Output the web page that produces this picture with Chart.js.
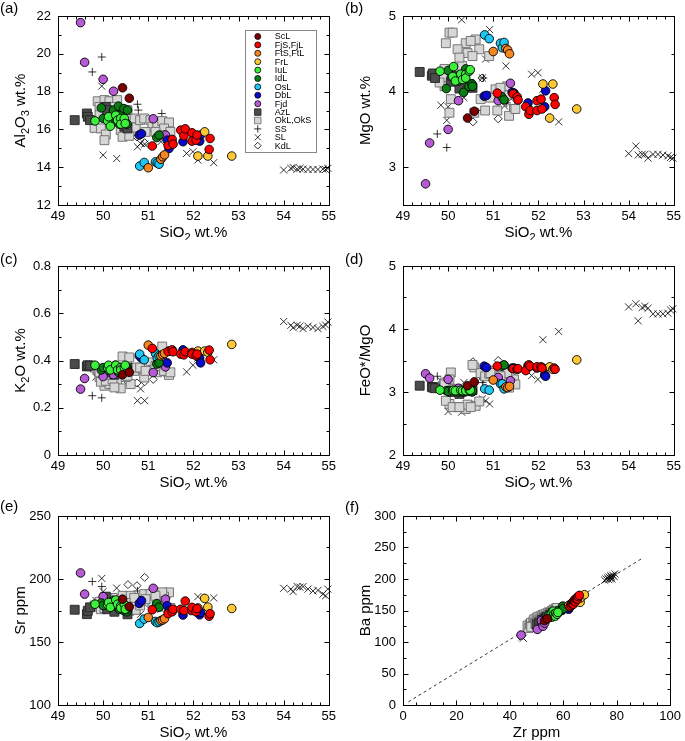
<!DOCTYPE html>
<html>
<head>
<meta charset="utf-8">
<script src="https://cdn.jsdelivr.net/npm/chart.js@4.4.0/dist/chart.umd.min.js"></script>
<style>
  body { margin: 0; background: #fff; width: 685px; height: 741px; position: relative; overflow: hidden;
         font-family: "Liberation Sans", Arial, sans-serif; }
  .panel { position: absolute; }
  .tag { position: absolute; font-size: 15px; line-height: 15px; color: #000; }
</style>
</head>
<body>
<div class="panel" style="left:0;top:0"><canvas id="ca" width="340" height="240"></canvas></div>
<div class="panel" style="left:340px;top:0"><canvas id="cb" width="345" height="240"></canvas></div>
<div class="panel" style="left:0;top:250px"><canvas id="cc" width="340" height="240"></canvas></div>
<div class="panel" style="left:340px;top:250px"><canvas id="cd" width="345" height="240"></canvas></div>
<div class="panel" style="left:0;top:500px"><canvas id="ce" width="340" height="240"></canvas></div>
<div class="panel" style="left:340px;top:500px"><canvas id="cf" width="345" height="240"></canvas></div>
<div class="tag" style="left:0;top:0">(a)</div>
<div class="tag" style="left:345px;top:0">(b)</div>
<div class="tag" style="left:0;top:251px">(c)</div>
<div class="tag" style="left:345px;top:251px">(d)</div>
<div class="tag" style="left:0;top:498px">(e)</div>
<div class="tag" style="left:345px;top:499px">(f)</div>

<script>
// --- DATA ---
// row columns: SiO2, Al2O3, MgO, K2O, FeO*/MgO, Sr, Zr, Ba
const ScL = [
  [50.43, 18.20, 3.65, 0.34, 3.10, 184, 53.0, 134],
  [50.58, 17.65, 3.74, 0.35, 3.16, 178, 54.0, 137],
];
const FjS_FjL = [
  [51.09, 15.12, 3.98, 0.451, 3.41, 175.6, 62.5, 156],
  [51.44, 15.15, 3.97, 0.438, 3.37, 172.5, 63.0, 158],
  [51.53, 15.47, 3.93, 0.445, 3.36, 174.0, 63.2, 161],
  [51.55, 15.22, 3.89, 0.437, 3.37, 176.0, 63.5, 163],
  [51.72, 15.96, 3.80, 0.427, 3.34, 176.0, 63.8, 160],
  [51.79, 15.66, 3.70, 0.424, 3.43, 175.0, 64.0, 165],
  [51.82, 16.03, 3.75, 0.437, 3.41, 182.5, 64.2, 167],
  [51.97, 15.82, 3.88, 0.434, 3.38, 175.0, 64.5, 164],
  [51.97, 15.38, 3.75, 0.427, 3.40, 177.5, 64.8, 168],
  [52.06, 15.43, 3.90, 0.420, 3.40, 174.0, 65.0, 170],
  [52.08, 15.70, 3.77, 0.427, 3.38, 176.5, 65.3, 168],
  [52.35, 14.94, 3.92, 0.444, 3.38, 170.5, 65.6, 172],
  [52.37, 15.52, 3.83, 0.403, 3.36, 172.5, 66.0, 174],
];
const FtS_FtL = [
  [51.00, 13.97, 4.53, 0.465, 3.19, 169.5, 62.0, 158],
  [51.28, 14.42, 4.57, 0.420, 3.08, 167.0, 63.0, 160],
  [51.32, 14.55, 4.55, 0.425, 3.07, 167.5, 63.5, 162],
  [51.36, 14.65, 4.50, 0.430, 3.09, 168.5, 64.0, 163],
];
const FrL = [
  [52.10, 14.59, 4.10, 0.440, 3.38, 177.0, 65.5, 168],
  [52.25, 15.87, 3.65, 0.440, 3.40, 184.6, 66.3, 163],
  [52.32, 14.59, 4.10, 0.435, 3.36, 177.7, 66.5, 170],
  [52.85, 14.59, 3.77, 0.468, 3.51, 176.6, 67.9, 175],
];
const IuL = [
  [49.82, 16.45, 4.27, 0.38, 3.03, 180.0, 54.6, 142],
  [50.10, 16.45, 4.20, 0.37, 3.02, 179.6, 55.2, 141],
  [50.12, 16.67, 4.33, 0.38, 3.03, 181.4, 55.5, 145],
  [50.16, 16.17, 4.14, 0.36, 3.02, 177.5, 56.0, 140],
  [50.28, 16.75, 4.23, 0.38, 3.03, 183.3, 56.2, 149],
  [50.32, 16.49, 4.16, 0.36, 3.02, 180.0, 56.5, 144],
  [50.39, 16.58, 4.23, 0.37, 3.03, 178.8, 57.0, 141],
  [50.39, 16.28, 4.18, 0.36, 3.02, 177.0, 57.2, 146],
  [50.47, 16.58, 4.27, 0.37, 3.03, 180.0, 57.7, 144],
  [50.49, 16.31, 4.29, 0.38, 3.03, 176.0, 58.0, 147],
];
const IdL = [
  [49.96, 17.14, 4.04, 0.36, 3.02, 181, 54.0, 138],
  [50.00, 16.58, 4.28, 0.37, 3.01, 179, 55.0, 142],
  [50.23, 17.02, 4.14, 0.37, 3.00, 183, 55.5, 140],
  [50.27, 16.49, 4.20, 0.38, 3.02, 180, 56.0, 145],
  [50.34, 17.23, 3.99, 0.35, 3.00, 177, 56.0, 143],
  [50.36, 16.28, 4.23, 0.36, 3.02, 176, 56.5, 146],
  [50.39, 16.75, 4.30, 0.37, 3.03, 180, 57.0, 147],
  [50.46, 17.10, 4.07, 0.36, 3.01, 175, 57.0, 144],
  [50.53, 16.28, 4.10, 0.37, 3.00, 174, 57.5, 148],
  [50.54, 17.02, 4.07, 0.36, 3.02, 176, 58.0, 150],
  [51.19, 15.57, 3.93, 0.385, 3.41, 180.5, 59.8, 157],
  [51.24, 15.70, 3.89, 0.39, 3.43, 177.5, 60.0, 153],
];
const OsL = [
  [50.81, 14.06, 4.75, 0.427, 3.05, 164.7, 61.5, 155],
  [50.91, 14.25, 4.70, 0.403, 3.03, 168.2, 62.0, 157],
  [51.16, 14.28, 4.64, 0.430, 3.13, 166.3, 62.3, 156],
  [51.20, 14.22, 4.58, 0.410, 3.13, 165.3, 62.8, 159],
  [51.24, 14.16, 4.65, 0.420, 3.05, 166.0, 63.0, 158],
];
const DbL = [
  [50.80, 15.70, 3.94, 0.420, 3.41, 180.6, 59.5, 150],
  [50.85, 15.77, 3.95, 0.410, 3.39, 182.8, 60.0, 153],
  [51.42, 15.43, 3.99, 0.390, 3.38, 178.8, 61.0, 155],
  [51.46, 14.99, 3.98, 0.440, 3.38, 175.0, 62.0, 152],
  [51.77, 15.35, 3.85, 0.445, 3.42, 171.4, 62.5, 158],
  [52.14, 15.38, 3.80, 0.410, 3.27, 171.6, 63.0, 160],
  [52.16, 15.70, 4.01, 0.390, 3.25, 173.5, 63.5, 162],
];
const Fjd = [
  [49.50, 21.65, 2.78, 0.279, 3.29, 204.8, 44.2, 111],
  [49.59, 19.55, 3.32, 0.324, 3.22, 188.0, 50.3, 120],
  [50.00, 18.65, 3.50, 0.332, 3.20, 186.0, 51.8, 134],
  [50.23, 18.02, 3.88, 0.340, 3.06, 180.0, 52.4, 125],
  [51.11, 16.56, 3.88, 0.349, 3.23, 192.6, 53.0, 130],
  [51.38, 15.70, 4.11, 0.373, 3.18, 184.0, 55.0, 140],
];
const AzL = [
  [49.37, 16.49, 4.26, 0.385, 3.10, 175.6, 50.0, 128],
  [49.64, 16.84, 4.21, 0.375, 3.08, 172.1, 51.0, 131],
  [49.66, 16.67, 4.24, 0.380, 3.07, 174.8, 52.0, 135],
  [49.71, 16.49, 4.18, 0.378, 3.06, 177.5, 53.0, 137],
  [50.06, 17.19, 4.13, 0.350, 3.02, 186.0, 53.5, 139],
  [50.09, 17.02, 4.21, 0.360, 3.00, 176.0, 54.0, 140],
  [50.25, 16.75, 4.04, 0.340, 2.97, 174.0, 55.0, 143],
  [50.47, 16.14, 4.10, 0.356, 3.05, 176.0, 56.0, 146],
  [50.54, 16.05, 4.05, 0.370, 3.03, 172.0, 57.0, 148],
];
const OkL_OkS = [
  [49.88, 17.49, 4.18, 0.360, 3.10, 180.0, 46.6, 126],
  [50.03, 17.55, 4.78, 0.293, 2.81, 185.4, 47.0, 122],
  [50.14, 17.49, 4.29, 0.300, 3.05, 182.0, 47.5, 128],
  [50.31, 17.55, 4.34, 0.307, 3.00, 184.0, 47.9, 130.5],
  [49.92, 17.19, 4.07, 0.330, 3.15, 178.0, 48.3, 125],
  [49.81, 16.08, 4.12, 0.370, 3.08, 179.0, 48.8, 133],
  [49.95, 16.05, 4.64, 0.310, 2.86, 176.0, 49.1, 136],
  [50.06, 15.73, 3.90, 0.314, 3.31, 181.0, 49.5, 131],
  [50.03, 15.43, 3.72, 0.360, 3.20, 177.0, 50.0, 138],
  [50.39, 15.96, 4.64, 0.282, 2.73, 183.0, 50.3, 134],
  [50.43, 15.61, 4.51, 0.417, 2.80, 186.7, 50.6, 140],
  [50.58, 15.66, 3.72, 0.413, 3.39, 174.8, 51.0, 136],
  [50.61, 16.31, 4.69, 0.300, 2.78, 186.7, 51.5, 141],
  [50.69, 16.58, 4.56, 0.356, 2.85, 185.0, 52.0, 139],
  [50.72, 16.10, 3.90, 0.370, 3.30, 175.5, 52.3, 143],
  [50.82, 16.49, 3.75, 0.370, 3.25, 179.0, 52.8, 143.7],
  [50.91, 16.58, 4.47, 0.328, 3.29, 188.0, 53.2, 141],
  [51.05, 16.49, 4.03, 0.392, 3.34, 188.0, 53.6, 145],
  [51.09, 16.14, 3.75, 0.360, 3.31, 182.0, 54.0, 142],
  [51.20, 16.23, 3.99, 0.350, 3.29, 180.0, 54.4, 147],
  [51.31, 16.44, 3.96, 0.427, 3.18, 184.0, 54.8, 146],
  [51.46, 16.37, 3.77, 0.339, 3.20, 189.4, 55.2, 146],
  [51.35, 16.05, 3.68, 0.356, 3.07, 186.0, 55.6, 149],
  [51.49, 15.87, 3.77, 0.350, 3.12, 177.0, 56.0, 148],
  [51.31, 15.70, 4.07, 0.459, 3.30, 189.4, 56.4, 151.6],
  [50.21, 17.19, 4.56, 0.320, 2.76, 185.0, 56.8, 150],
  [50.10, 16.84, 4.78, 0.340, 2.76, 184.0, 57.2, 153],
  [50.25, 16.58, 4.45, 0.286, 2.76, 179.0, 57.7, 154],
  [49.92, 16.75, 4.30, 0.350, 3.12, 182.0, 48.0, 124],
  [50.50, 16.75, 4.67, 0.330, 2.76, 181.0, 49.6, 129],
  [50.54, 17.02, 4.47, 0.335, 3.43, 178.0, 51.2, 133],
  [50.94, 15.87, 3.92, 0.356, 3.30, 184.0, 53.0, 138],
  [51.16, 15.87, 4.05, 0.377, 3.25, 186.7, 55.0, 144],
];
const SS = [
  [49.76, 19.04, 3.44, 0.251, 3.25, 198.0, 49.0, 128],
  [49.97, 19.83, 3.26, 0.242, 3.20, 194.0, 50.0, 131],
  [50.76, 17.33, 3.75, 0.360, 3.15, 190.5, 53.0, 138],
  [50.78, 17.02, 4.18, 0.370, 3.20, 186.0, 54.0, 140],
  [51.30, 16.84, 3.85, 0.380, 3.30, 182.0, 55.0, 143],
];
const SL = [
  [49.84, 16.00, 3.82, 0.330, 3.18, 183.0, 44.5, 108],
  [49.97, 18.29, 3.62, 0.320, 3.10, 200.5, 45.0, 106],
  [50.00, 14.64, 3.80, 0.310, 2.69, 190.0, 50.0, 122],
  [50.30, 14.46, 4.95, 0.290, 2.68, 192.8, 52.0, 126],
  [50.35, 16.40, 3.92, 0.300, 3.15, 178.0, 53.0, 132],
  [50.76, 15.08, 4.18, 0.230, 2.89, 175.0, 55.0, 138],
  [50.83, 15.26, 4.43, 0.280, 2.86, 172.0, 56.0, 141],
  [50.92, 15.22, 4.82, 0.230, 2.81, 180.0, 57.0, 145],
  [51.25, 15.61, 3.81, 0.380, 3.40, 178.0, 58.0, 147],
  [51.28, 15.35, 4.34, 0.360, 3.30, 176.0, 60.0, 152],
  [51.85, 14.73, 4.23, 0.352, 3.26, 174.0, 62.0, 158],
  [51.99, 14.82, 4.25, 0.380, 3.20, 175.0, 63.0, 161],
  [52.10, 14.38, 4.03, 0.410, 3.83, 186.0, 64.0, 164],
  [52.45, 14.24, 3.60, 0.403, 3.96, 185.0, 65.0, 167],
  [54.00, 13.85, 3.18, 0.565, 4.35, 192.6, 75.5, 198],
  [54.16, 13.94, 3.28, 0.549, 4.40, 192.0, 76.0, 200],
  [54.21, 13.99, 3.16, 0.539, 4.13, 190.0, 76.5, 202],
  [54.30, 13.90, 3.17, 0.549, 4.34, 194.0, 77.0, 199],
  [54.36, 13.94, 3.17, 0.545, 4.36, 193.5, 77.2, 203],
  [54.43, 13.90, 3.12, 0.535, 4.33, 194.0, 77.5, 201],
  [54.54, 13.88, 3.17, 0.545, 4.24, 192.0, 77.8, 205],
  [54.65, 13.88, 3.17, 0.540, 4.24, 190.5, 78.0, 203],
  [54.76, 13.88, 3.16, 0.535, 4.24, 191.0, 78.2, 200],
  [54.87, 13.90, 3.15, 0.544, 4.25, 188.0, 78.5, 206],
  [54.93, 13.88, 3.13, 0.550, 4.30, 186.7, 79.0, 204],
  [54.98, 13.94, 3.12, 0.563, 4.32, 192.0, 79.3, 208],
];
const KdL = [
  [50.55, 15.90, 3.60, 0.310, 3.48, 195.5, 54.0, 139],
  [50.75, 15.60, 4.18, 0.305, 3.24, 194.7, 55.0, 142],
  [50.92, 15.30, 3.95, 0.310, 3.30, 201.3, 56.0, 145],
  [51.11, 16.10, 3.64, 0.320, 3.50, 183.0, 57.0, 148],
  [51.40, 15.80, 3.85, 0.340, 3.27, 185.0, 58.0, 150],
];

// reference line in (f)
const refZr = [2, 90];
const refBa = [5, 234];

// tick labels
const sio2Ticks = [49, 50, 51, 52, 53, 54, 55];
const al2o3Ticks = [12, 14, 16, 18, 20, 22];
const mgoTicks = [3, 4, 5];
const k2oTicks = [0, 0.2, 0.4, 0.6, 0.8];
const feoTicks = [2, 3, 4, 5];
const srTicks = [100, 150, 200, 250];
const zrTicks = [0, 20, 40, 60, 80, 100];
const baTicks = [0, 50, 100, 150, 200, 250, 300];

// --- STYLE ---
const FONT = '"Liberation Sans", Arial, sans-serif';

const SERIES = [
  { label: "ScL", rows: ScL, shape: "circle", fill: "#7d0000", line: "#000" },
  { label: "FjS,FjL", rows: FjS_FjL, shape: "circle", fill: "#ff0000", line: "#000" },
  { label: "FtS,FtL", rows: FtS_FtL, shape: "circle", fill: "#f7861f", line: "#000" },
  { label: "FrL", rows: FrL, shape: "circle", fill: "#fcc834", line: "#000" },
  { label: "IuL", rows: IuL, shape: "circle", fill: "#3cf03c", line: "#000" },
  { label: "IdL", rows: IdL, shape: "circle", fill: "#0a7d14", line: "#000" },
  { label: "OsL", rows: OsL, shape: "circle", fill: "#1ec8f5", line: "#000" },
  { label: "DbL", rows: DbL, shape: "circle", fill: "#0a0acc", line: "#000" },
  { label: "Fjd", rows: Fjd, shape: "circle", fill: "#b75ad6", line: "#000" },
  { label: "AzL", rows: AzL, shape: "rect", fill: "#4b4b4b", line: "#222" },
  { label: "OkL,OkS", rows: OkL_OkS, shape: "rect", fill: "#d6d6d6", line: "#6a6a6a" },
  { label: "SS", rows: SS, shape: "cross", fill: "#000", line: "#000" },
  { label: "SL", rows: SL, shape: "crossRot", fill: "#000", line: "#000" },
  { label: "KdL", rows: KdL, shape: "rectRot", fill: "#fff", line: "#000" },
];

const RADIUS = { circle: 4.3, rect: 6.3, cross: 4, crossRot: 5, rectRot: 4 };
const LEG_RADIUS = { circle: 3, rect: 4.6, cross: 3.6, crossRot: 4.2, rectRot: 3.4 };

const PANELS = [
  { id: "ca", xi: 0, yi: 1, xr: [49, 55], yr: [12, 22], xt: sio2Ticks, yt: al2o3Ticks, xm: 0.2, ym: 1,
    xTitle: "SiO_{2} wt.%", yTitle: "Al_{2}O_{3} wt.%", yW: 58, legend: true },
  { id: "cb", xi: 0, yi: 2, xr: [49, 55], yr: [2.5, 5], xt: sio2Ticks, yt: mgoTicks, xm: 0.2, ym: 0.5,
    xTitle: "SiO_{2} wt.%", yTitle: "MgO wt.%", yW: 63 },
  { id: "cc", xi: 0, yi: 3, xr: [49, 55], yr: [0, 0.8], xt: sio2Ticks, yt: k2oTicks, xm: 0.2, ym: 0.1,
    xTitle: "SiO_{2} wt.%", yTitle: "K_{2}O wt.%", yW: 58 },
  { id: "cd", xi: 0, yi: 4, xr: [49, 55], yr: [2, 5], xt: sio2Ticks, yt: feoTicks, xm: 0.2, ym: 0.5,
    xTitle: "SiO_{2} wt.%", yTitle: "FeO*/MgO", yW: 63 },
  { id: "ce", xi: 0, yi: 5, xr: [49, 55], yr: [100, 250], xt: sio2Ticks, yt: srTicks, xm: 0.2, ym: 25,
    xTitle: "SiO_{2} wt.%", yTitle: "Sr ppm", yW: 58 },
  { id: "cf", xi: 6, yi: 7, xr: [0, 100], yr: [0, 300], xt: zrTicks, yt: baTicks, xm: 5, ym: 25,
    xTitle: "Zr ppm", yTitle: "Ba ppm", yW: 63, refLine: true },
];

// --- HELPERS ---
function parseRich(s) {
  const parts = [];
  const re = /_\{([^}]*)\}/g;
  let last = 0, m;
  while ((m = re.exec(s))) {
    if (m.index > last) parts.push({ t: s.slice(last, m.index), sub: false });
    parts.push({ t: m[1], sub: true });
    last = re.lastIndex;
  }
  if (last < s.length) parts.push({ t: s.slice(last), sub: false });
  return parts;
}

function drawRich(ctx, text, cx, cy, size, vertical) {
  const parts = parseRich(text);
  const subSize = Math.round(size * 0.72);
  let total = 0;
  parts.forEach((p) => {
    ctx.font = `${p.sub ? subSize : size}px ${FONT}`;
    p.w = ctx.measureText(p.t).width;
    total += p.w;
  });
  ctx.save();
  ctx.translate(cx, cy);
  if (vertical) ctx.rotate(-Math.PI / 2);
  ctx.textBaseline = "middle";
  ctx.textAlign = "left";
  ctx.fillStyle = "#000";
  let x = -total / 2;
  parts.forEach((p) => {
    ctx.font = `${p.sub ? subSize : size}px ${FONT}`;
    ctx.fillText(p.t, x, p.sub ? size * 0.32 : 0);
    x += p.w;
  });
  ctx.restore();
}

function tickMarks(ctx, scale, majors, minor, lo, hi, horizontal, a) {
  const n = Math.round((hi - lo) / minor);
  for (let i = 0; i <= n; i++) {
    const v = lo + i * minor;
    const isMajor = majors.some((m) => Math.abs(m - v) < minor / 10);
    const len = isMajor ? 5 : 3;
    const p = Math.round(scale.getPixelForValue(v)) + 0.5;
    if (horizontal) {
      ctx.moveTo(p, a.bottom); ctx.lineTo(p, a.bottom - len);
      ctx.moveTo(p, a.top); ctx.lineTo(p, a.top + len);
    } else {
      ctx.moveTo(a.left, p); ctx.lineTo(a.left + len, p);
      ctx.moveTo(a.right, p); ctx.lineTo(a.right - len, p);
    }
  }
}

// frame with inward ticks on four sides, axis titles, legend
const panelDecor = {
  id: "panelDecor",
  beforeDatasetsDraw(chart, args, o) {
    const { ctx, chartArea: a, scales: { x, y } } = chart;
    ctx.save();
    ctx.strokeStyle = "#000";
    ctx.lineWidth = 1;
    const L = Math.round(a.left) + 0.5, R = Math.round(a.right) + 0.5;
    const T = Math.round(a.top) + 0.5, B = Math.round(a.bottom) + 0.5;
    ctx.strokeRect(L, T, R - L, B - T);
    ctx.beginPath();
    const box = { left: L, right: R, top: T, bottom: B };
    tickMarks(ctx, x, o.xt, o.xm, o.xr[0], o.xr[1], true, box);
    tickMarks(ctx, y, o.yt, o.ym, o.yr[0], o.yr[1], false, box);
    ctx.stroke();
    ctx.restore();
  },
  afterDraw(chart, args, o) {
    const { ctx, chartArea: a } = chart;
    drawRich(ctx, o.xTitle, (a.left + a.right) / 2, a.bottom + 28, 15, false);
    drawRich(ctx, o.yTitle, a.left - 37, (a.top + a.bottom) / 2, 15, true);

    if (!o.legend) return;
    const bx = a.right - 84, by = a.top + 13.5;
    ctx.save();
    ctx.fillStyle = "#fff";
    ctx.fillRect(Math.round(bx) + 0.5, Math.round(by) + 0.5, 71, 122);
    ctx.strokeStyle = "#888";
    ctx.lineWidth = 1;
    ctx.strokeRect(Math.round(bx) + 0.5, Math.round(by) + 0.5, 71, 122);
    ctx.font = `9px ${FONT}`;
    ctx.textBaseline = "middle";
    ctx.textAlign = "left";
    SERIES.forEach((s, i) => {
      const yy = by + 7 + i * 8.4;
      ctx.fillStyle = s.fill;
      ctx.strokeStyle = s.line;
      ctx.lineWidth = 0.8;
      Chart.helpers.drawPoint(ctx, { pointStyle: s.shape, radius: LEG_RADIUS[s.shape], rotation: 0, borderWidth: 0.8 }, bx + 13, yy);
      ctx.fillStyle = "#000";
      ctx.fillText(s.label, bx + 30, yy + 0.5);
    });
    ctx.restore();
  },
};

// --- BUILD ---
function makeChart(p) {
  const datasets = SERIES.map((s) => ({
    label: s.label,
    data: s.rows.map((r) => ({ x: r[p.xi], y: r[p.yi] })),
    pointStyle: s.shape,
    pointRadius: RADIUS[s.shape],
    pointBackgroundColor: s.fill,
    pointBorderColor: s.line,
    pointBorderWidth: s.shape === "circle" || s.shape === "rect" ? 0.9 : 0.8,
    showLine: false,
    clip: false,
  }));
  if (p.refLine) {
    datasets.push({
      label: "ref",
      data: refZr.map((z, i) => ({ x: z, y: refBa[i] })),
      showLine: true,
      borderColor: "#000",
      borderWidth: 0.8,
      borderDash: [3, 3],
      pointRadius: 0,
      clip: false,
    });
  }

  const tickFont = { family: FONT, size: 13 };
  new Chart(document.getElementById(p.id), {
    type: "scatter",
    data: { datasets },
    options: {
      responsive: false,
      animation: false,
      events: [],
      layout: { padding: { top: 16, right: 9, left: 0, bottom: 0 } },
      plugins: {
        legend: { display: false },
        tooltip: { enabled: false },
        panelDecor: p,
      },
      scales: {
        x: {
          type: "linear",
          min: p.xr[0],
          max: p.xr[1],
          grid: { display: false, drawTicks: false },
          border: { display: false },
          ticks: { color: "#000", font: tickFont, padding: 4, autoSkip: false, maxRotation: 0 },
          afterBuildTicks: (s) => { s.ticks = p.xt.map((v) => ({ value: v })); },
          afterFit: (s) => { s.height = 35; },
        },
        y: {
          type: "linear",
          min: p.yr[0],
          max: p.yr[1],
          grid: { display: false, drawTicks: false },
          border: { display: false },
          ticks: { color: "#000", font: tickFont, padding: 7, autoSkip: false },
          afterBuildTicks: (s) => { s.ticks = p.yt.map((v) => ({ value: v })); },
          afterFit: (s) => { s.width = p.yW; },
        },
      },
    },
    plugins: [panelDecor],
  });
}

PANELS.forEach(makeChart);
</script>
</body>
</html>
